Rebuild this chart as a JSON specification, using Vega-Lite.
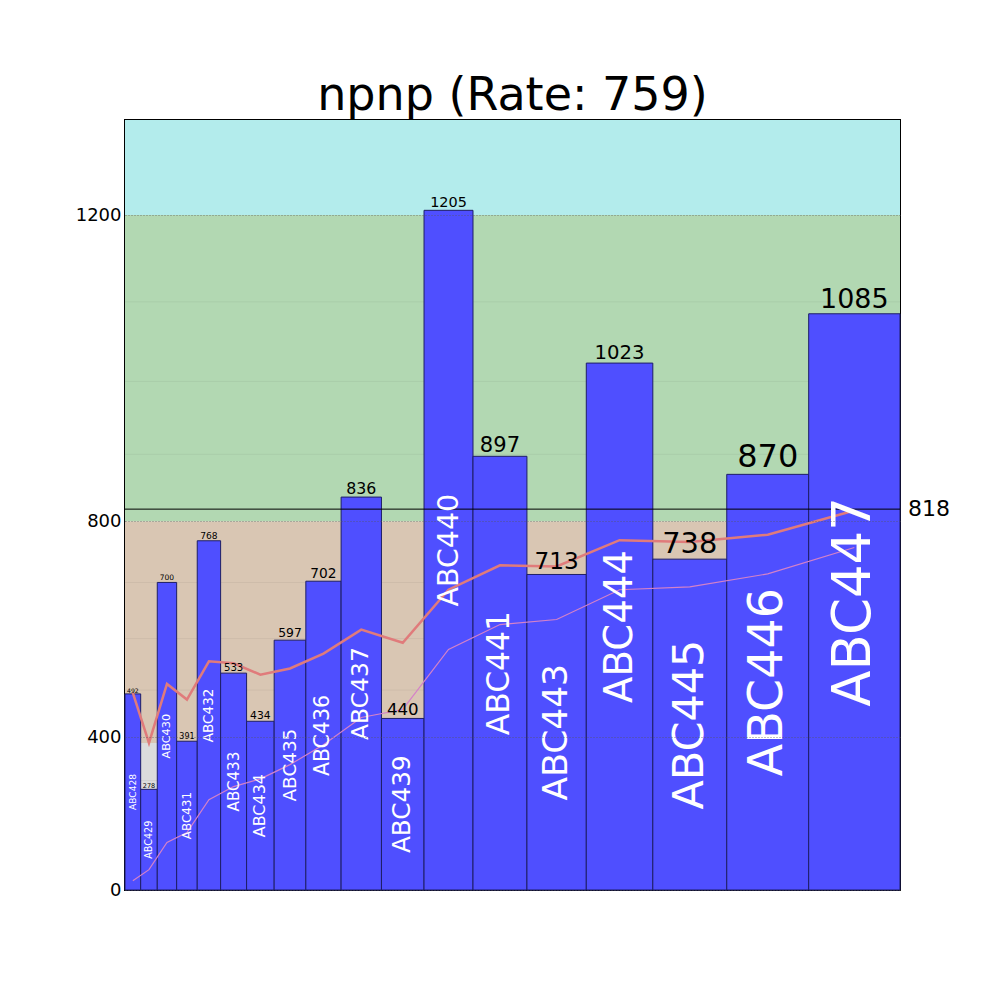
{
  "$schema": "https://vega.github.io/schema/vega-lite/v6.json",
  "width": 775,
  "height": 770,
  "autosize": "none",
  "padding": {"left": 125, "top": 120, "right": 100, "bottom": 110},
  "background": "white",
  "title": {"text": "npnp (Rate: 759)", "fontSize": 46, "font": "DejaVu Sans", "fontWeight": "normal", "color": "black", "anchor": "middle", "baseline": "alphabetic", "offset": 6, "dy": 42, "frame": "group"},
  "config": {"view": {"stroke": "black", "strokeWidth": 2}, "font": "DejaVu Sans"},
  "datasets": {
    "bars": [
      {"name": "ABC428", "start": 0, "end": 15.7, "w": 15.7, "mid": 7.85, "base": 0, "value": 492, "avg": 494, "cum": 28},
      {"name": "ABC429", "start": 15.7, "end": 32.3, "w": 16.6, "mid": 24, "base": 0, "value": 278, "avg": 387, "cum": 61},
      {"name": "ABC430", "start": 32.3, "end": 51.7, "w": 19.4, "mid": 42, "base": 0, "value": 700, "avg": 512, "cum": 139},
      {"name": "ABC431", "start": 51.7, "end": 72.3, "w": 20.6, "mid": 62, "base": 0, "value": 391, "avg": 480, "cum": 166},
      {"name": "ABC432", "start": 72.3, "end": 95.7, "w": 23.4, "mid": 84, "base": 0, "value": 768, "avg": 556, "cum": 252},
      {"name": "ABC433", "start": 95.7, "end": 121.7, "w": 26, "mid": 108.7, "base": 0, "value": 533, "avg": 552, "cum": 285},
      {"name": "ABC434", "start": 121.7, "end": 149.3, "w": 27.6, "mid": 135.5, "base": 0, "value": 434, "avg": 530, "cum": 304},
      {"name": "ABC435", "start": 149.3, "end": 181, "w": 31.7, "mid": 165.15, "base": 0, "value": 597, "avg": 542, "cum": 337},
      {"name": "ABC436", "start": 181, "end": 216.3, "w": 35.3, "mid": 198.65, "base": 0, "value": 702, "avg": 571, "cum": 383},
      {"name": "ABC437", "start": 216.3, "end": 256.7, "w": 40.4, "mid": 236.5, "base": 0, "value": 836, "avg": 616, "cum": 442},
      {"name": "ABC439", "start": 256.7, "end": 299.3, "w": 42.6, "mid": 278, "base": 0, "value": 440, "avg": 592, "cum": 459},
      {"name": "ABC440", "start": 299.3, "end": 348.3, "w": 49, "mid": 323.8, "base": 0, "value": 1205, "avg": 687, "cum": 579},
      {"name": "ABC441", "start": 348.3, "end": 402.3, "w": 54, "mid": 375.3, "base": 0, "value": 897, "avg": 728, "cum": 625},
      {"name": "ABC443", "start": 402.3, "end": 461.7, "w": 59.4, "mid": 432, "base": 0, "value": 713, "avg": 726, "cum": 634},
      {"name": "ABC444", "start": 461.7, "end": 528.3, "w": 66.6, "mid": 495, "base": 0, "value": 1023, "avg": 769, "cum": 687},
      {"name": "ABC445", "start": 528.3, "end": 602.3, "w": 74, "mid": 565.3, "base": 0, "value": 738, "avg": 766, "cum": 692},
      {"name": "ABC446", "start": 602.3, "end": 684.3, "w": 82, "mid": 643.3, "base": 0, "value": 870, "avg": 778, "cum": 714},
      {"name": "ABC447", "start": 684.3, "end": 775.7, "w": 91.4, "mid": 730, "base": 0, "value": 1085, "avg": 816, "cum": 757}
    ],
    "bands": [
      {"zone": "low", "lo": 0, "hi": 387},
      {"zone": "mid", "lo": 387, "hi": 800},
      {"zone": "good", "lo": 800, "hi": 1200},
      {"zone": "high", "lo": 1200, "hi": 1300}
    ],
    "minor": [
      {"v": 100}, {"v": 200}, {"v": 300}, {"v": 500}, {"v": 600}, {"v": 700},
      {"v": 900}, {"v": 1000}, {"v": 1100}
    ],
    "ref": [{"ref": 818}]
  },
  "resolve": {"scale": {"y": "independent", "size": "independent", "color": "independent"}},
  "layer": [
    {
      "data": {"name": "bands"},
      "mark": {"type": "rect"},
      "encoding": {
        "x": {"datum": 0, "type": "quantitative", "scale": {"domain": [0, 775.7], "nice": false, "zero": false}, "axis": null},
        "x2": {"datum": 775.7},
        "y": {"field": "lo", "type": "quantitative",
              "scale": {"type": "linear", "domain": [0, 100, 200, 300, 400, 500, 600, 700, 800, 900, 1000, 1100, 1200, 1300], "range": [770, 736.66, 700.29, 660.61, 617.33, 570.12, 518.62, 462.44, 401.16, 334.3, 261.38, 181.84, 95.07, 0], "nice": false, "zero": false},
              "axis": null},
        "y2": {"field": "hi"},
        "color": {"field": "zone", "type": "nominal", "scale": {"domain": ["low", "mid", "good", "high"], "range": ["#dcdcdc", "#d9c6b3", "#b2d8b2", "#b3ecec"]}, "legend": null}
      }
    },
    {
      "data": {"name": "minor"},
      "mark": {"type": "rule", "color": "black", "opacity": 0.05, "strokeWidth": 1},
      "encoding": {
        "y": {"field": "v", "type": "quantitative",
              "scale": {"type": "linear", "domain": [0, 100, 200, 300, 400, 500, 600, 700, 800, 900, 1000, 1100, 1200, 1300], "range": [770, 736.66, 700.29, 660.61, 617.33, 570.12, 518.62, 462.44, 401.16, 334.3, 261.38, 181.84, 95.07, 0], "nice": false, "zero": false},
              "axis": null}
      }
    },
    {
      "data": {"name": "bars"},
      "mark": {"type": "rect", "fill": "#4f4fff", "stroke": "#1e1e66", "strokeWidth": 1},
      "encoding": {
        "x": {"field": "start", "type": "quantitative", "axis": null},
        "x2": {"field": "end"},
        "y": {"field": "value", "type": "quantitative",
              "scale": {"type": "linear", "domain": [0, 100, 200, 300, 400, 500, 600, 700, 800, 900, 1000, 1100, 1200, 1300], "range": [770, 736.66, 700.29, 660.61, 617.33, 570.12, 518.62, 462.44, 401.16, 334.3, 261.38, 181.84, 95.07, 0], "nice": false, "zero": false},
              "axis": {"title": null, "values": [0, 400, 800, 1200], "format": "d", "grid": true, "gridDash": [1, 2], "gridColor": "#555555", "gridOpacity": 0.7, "gridWidth": 1, "zindex": 1, "ticks": false, "domain": false, "labelFontSize": 18, "labelColor": "black", "labelFont": "DejaVu Sans", "labelPadding": 4}},
        "y2": {"field": "base"}
      }
    },
    {
      "data": {"name": "ref"},
      "mark": {"type": "rule", "color": "black", "strokeWidth": 1},
      "encoding": {
        "y": {"field": "ref", "type": "quantitative",
              "scale": {"type": "linear", "domain": [0, 100, 200, 300, 400, 500, 600, 700, 800, 900, 1000, 1100, 1200, 1300], "range": [770, 736.66, 700.29, 660.61, 617.33, 570.12, 518.62, 462.44, 401.16, 334.3, 261.38, 181.84, 95.07, 0], "nice": false, "zero": false},
              "axis": null}
      }
    },
    {
      "data": {"name": "bars"},
      "mark": {"type": "line", "color": "#e07b7b", "strokeWidth": 2.5},
      "encoding": {
        "x": {"field": "mid", "type": "quantitative", "axis": null},
        "y": {"field": "avg", "type": "quantitative",
              "scale": {"type": "linear", "domain": [0, 100, 200, 300, 400, 500, 600, 700, 800, 900, 1000, 1100, 1200, 1300], "range": [770, 736.66, 700.29, 660.61, 617.33, 570.12, 518.62, 462.44, 401.16, 334.3, 261.38, 181.84, 95.07, 0], "nice": false, "zero": false},
              "axis": null}
      }
    },
    {
      "data": {"name": "bars"},
      "mark": {"type": "line", "color": "#d582c8", "strokeWidth": 1.2},
      "encoding": {
        "x": {"field": "mid", "type": "quantitative", "axis": null},
        "y": {"field": "cum", "type": "quantitative",
              "scale": {"type": "linear", "domain": [0, 100, 200, 300, 400, 500, 600, 700, 800, 900, 1000, 1100, 1200, 1300], "range": [770, 736.66, 700.29, 660.61, 617.33, 570.12, 518.62, 462.44, 401.16, 334.3, 261.38, 181.84, 95.07, 0], "nice": false, "zero": false},
              "axis": null}
      }
    },
    {
      "data": {"name": "bars"},
      "mark": {"type": "text", "color": "white", "angle": 270, "align": "center", "baseline": "middle", "font": "DejaVu Sans"},
      "encoding": {
        "x": {"field": "mid", "type": "quantitative", "axis": null},
        "y": {"field": "value", "type": "quantitative",
              "scale": {"type": "linear", "domain": [0, 100, 200, 300, 400, 500, 600, 700, 800, 900, 1000, 1100, 1200, 1300], "range": [770, 753.33, 735.15, 715.31, 693.67, 670.06, 644.31, 616.22, 585.58, 552.15, 515.69, 475.92, 432.54, 385], "nice": false, "zero": false},
              "axis": null},
        "size": {"field": "w", "type": "quantitative", "scale": {"domain": [0, 100], "range": [0, 58]}, "legend": null},
        "text": {"field": "name"}
      }
    },
    {
      "data": {"name": "bars"},
      "transform": [{"filter": "datum.value < 1000"}],
      "mark": {"type": "text", "color": "black", "align": "center", "baseline": "bottom", "font": "DejaVu Sans"},
      "encoding": {
        "x": {"field": "mid", "type": "quantitative", "axis": null},
        "y": {"field": "value", "type": "quantitative",
              "scale": {"type": "linear", "domain": [0, 100, 200, 300, 400, 500, 600, 700, 800, 900, 1000, 1100, 1200, 1300], "range": [770, 736.66, 700.29, 660.61, 617.33, 570.12, 518.62, 462.44, 401.16, 334.3, 261.38, 181.84, 95.07, 0], "nice": false, "zero": false},
              "axis": null},
        "size": {"field": "w", "type": "quantitative", "scale": {"domain": [0, 100], "range": [0, 39]}, "legend": null},
        "text": {"field": "value"}
      }
    },
    {
      "data": {"name": "bars"},
      "transform": [{"filter": "datum.value >= 1000"}],
      "mark": {"type": "text", "color": "black", "align": "center", "baseline": "bottom", "font": "DejaVu Sans"},
      "encoding": {
        "x": {"field": "mid", "type": "quantitative", "axis": null},
        "y": {"field": "value", "type": "quantitative",
              "scale": {"type": "linear", "domain": [0, 100, 200, 300, 400, 500, 600, 700, 800, 900, 1000, 1100, 1200, 1300], "range": [770, 736.66, 700.29, 660.61, 617.33, 570.12, 518.62, 462.44, 401.16, 334.3, 261.38, 181.84, 95.07, 0], "nice": false, "zero": false},
              "axis": null},
        "size": {"field": "w", "type": "quantitative", "scale": {"domain": [0, 100], "range": [0, 29.5]}, "legend": null},
        "text": {"field": "value"}
      }
    },
    {
      "data": {"name": "ref"},
      "mark": {"type": "text", "color": "black", "align": "left", "baseline": "middle", "dx": 8, "fontSize": 22, "font": "DejaVu Sans"},
      "encoding": {
        "x": {"datum": 775.7, "type": "quantitative", "axis": null},
        "y": {"field": "ref", "type": "quantitative",
              "scale": {"type": "linear", "domain": [0, 100, 200, 300, 400, 500, 600, 700, 800, 900, 1000, 1100, 1200, 1300], "range": [770, 736.66, 700.29, 660.61, 617.33, 570.12, 518.62, 462.44, 401.16, 334.3, 261.38, 181.84, 95.07, 0], "nice": false, "zero": false},
              "axis": null},
        "text": {"field": "ref"}
      }
    }
  ]
}
